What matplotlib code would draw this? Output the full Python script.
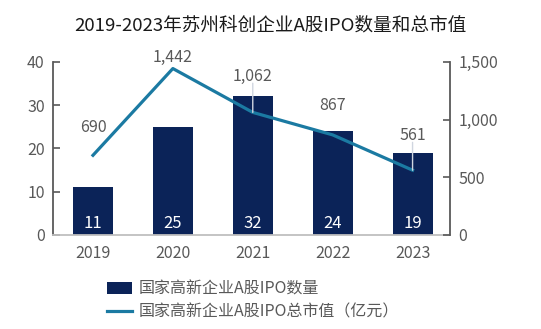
import matplotlib
matplotlib.use("Agg")
import matplotlib.pyplot as plt
from matplotlib.patches import Patch
from matplotlib.lines import Line2D

plt.rcParams['font.family'] = ['Noto Sans CJK SC', 'DejaVu Sans']

years = ["2019", "2020", "2021", "2022", "2023"]
ipo_count = [11, 25, 32, 24, 19]
market_value = [690, 1442, 1062, 867, 561]
value_labels = ["690", "1,442", "1,062", "867", "561"]
left_ticks = [0, 10, 20, 30, 40]
right_ticks = [0, 500, 1000, 1500]
right_tick_labels = ["0", "500", "1,000", "1,500"]

title = "2019-2023年苏州科创企业A股IPO数量和总市值"
bar_name = "国家高新企业A股IPO数量"
line_name = "国家高新企业A股IPO总市值（亿元）"

bar_color = "#0b2358"
line_color = "#1b7aa2"
text_gray = "#595959"
spine_gray = "#595959"
fs = 11.5

fig = plt.figure(figsize=(5.41, 3.29), dpi=100)
ax = fig.add_axes([0.098, 0.286, 0.734, 0.526])
ax2 = ax.twinx()

x = list(range(len(years)))
ax.bar(x, ipo_count, width=0.5, color=bar_color, zorder=2)
for xi, v in zip(x, ipo_count):
    ax.text(xi, 2.6, str(v), color="white", ha="center", va="center", fontsize=12)

ax.set_xlim(-0.5, 4.47)
ax.set_ylim(0, 40)
ax.set_yticks(left_ticks)
ax.set_xticks(x)
ax.set_xticklabels(years)

ax2.plot(x, market_value, color=line_color, lw=2.3, zorder=3)
ax2.set_ylim(0, 1500)
ax2.set_yticks(right_ticks)
ax2.set_yticklabels(right_tick_labels)

# label offsets above each point (points), with leader lines where labels sit high
offsets = [14, 2, 20, 15, 19]
leaders = [False, False, True, False, True]
for xi, v, lab, off, lead in zip(x, market_value, value_labels, offsets, leaders):
    ax2.annotate(lab, (xi, v), xytext=(0, off), textcoords="offset points",
                 ha="center", va="bottom", color=text_gray, fontsize=fs, zorder=5)
    if lead:
        ax2.annotate("", (xi, v), xytext=(0, off + 1), textcoords="offset points",
                     arrowprops=dict(arrowstyle="-", color="#d0d6e0", lw=1.0,
                                     shrinkA=0, shrinkB=0), zorder=4)

for a in (ax, ax2):
    a.spines["top"].set_visible(False)
    a.tick_params(labelsize=fs, colors=text_gray, direction="in", length=5, width=1.2)

ax.spines["right"].set_visible(False)
ax.spines["left"].set_color(spine_gray)
ax.spines["left"].set_linewidth(1.3)
ax.spines["bottom"].set_color("#bfbfbf")
ax.spines["bottom"].set_linewidth(1.3)
ax.tick_params(axis="x", length=0, pad=7)
ax2.spines["left"].set_visible(False)
ax2.spines["bottom"].set_visible(False)
ax2.spines["right"].set_color(spine_gray)
ax2.spines["right"].set_linewidth(1.3)
ax.tick_params(axis="y", pad=6)
ax2.tick_params(axis="y", pad=6)

fig.text(0.5, 0.922, title, ha="center", va="center", fontsize=13.4, color="#1a1a1a")

handles = [Patch(facecolor=bar_color, edgecolor="none"),
           Line2D([0], [0], color=line_color, lw=2.3)]
fig.legend(handles, [bar_name, line_name], loc="upper left",
           bbox_to_anchor=(0.198, 0.147), frameon=False, fontsize=fs,
           handlelength=1.55, handletextpad=0.45, labelspacing=0.35,
           labelcolor=text_gray, borderaxespad=0, borderpad=0)

fig.savefig("out.png", dpi=100)
